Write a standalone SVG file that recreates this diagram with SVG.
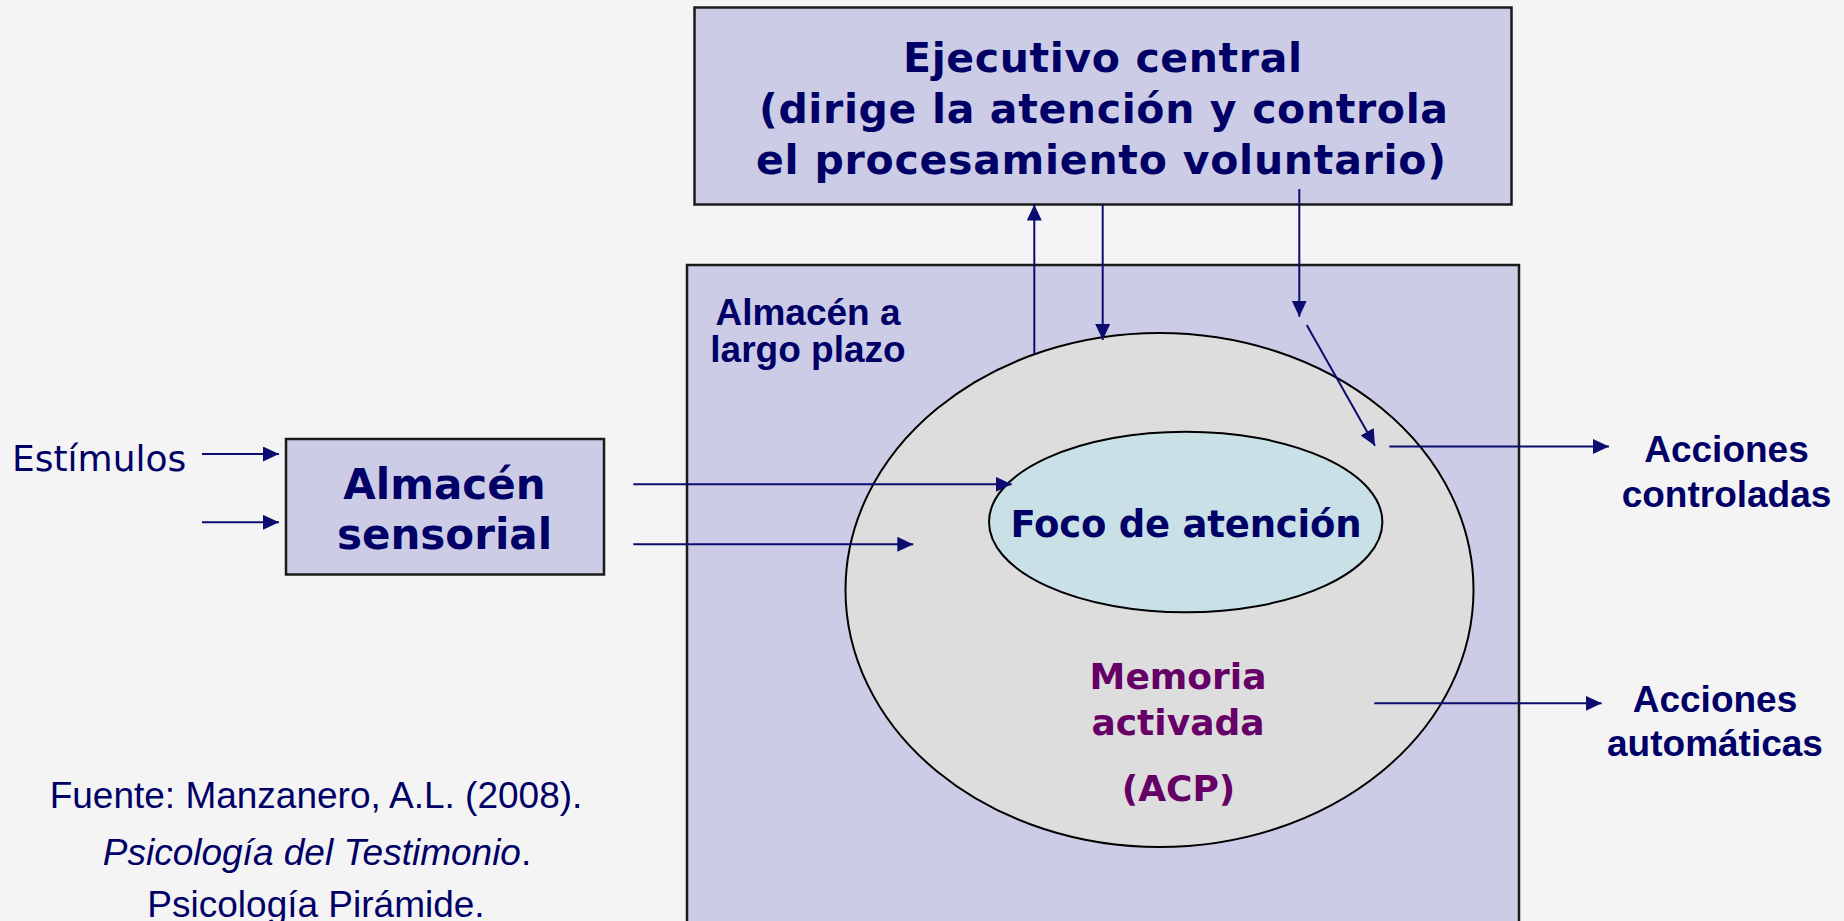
<svg xmlns="http://www.w3.org/2000/svg" width="1844" height="921" viewBox="0 0 1844 921">
  <style>
    .box { fill: #CCCCE6; stroke: #1a1a1a; stroke-width: 2.5; }
    .conn { stroke: #0c0c70; stroke-width: 2; fill: none; marker-end: url(#ah); }
    .vb { font-family: "DejaVu Sans", Verdana, sans-serif; font-weight: bold; fill: #000066; text-anchor: middle; }
    .ab { font-family: "Liberation Sans", Arial, sans-serif; font-weight: bold; fill: #000066; text-anchor: middle; }
    .ar { font-family: "Liberation Sans", Arial, sans-serif; fill: #000066; text-anchor: middle; font-size: 37px; }
    .mem { fill: #660066; }
  </style>
  <defs>
    <marker id="ah" markerUnits="userSpaceOnUse" markerWidth="16" markerHeight="15" refX="16" refY="7.5" orient="auto" viewBox="0 0 16 15">
      <path d="M0,0 L16,7.5 L0,15 z" fill="#0c0c70"/>
    </marker>
  </defs>
  <rect x="0" y="0" width="1844" height="921" fill="#F4F4F4"/>

  <g id="largo-plazo">
    <rect class="box" x="687" y="265" width="832" height="680"/>
    <text class="ab" font-size="37" x="808" y="325">Almacén a</text>
    <text class="ab" font-size="37" x="808" y="362">largo plazo</text>
  </g>

  <g id="memoria-activada">
    <ellipse cx="1159.5" cy="590" rx="314" ry="257" fill="#DDDDDD" stroke="#000" stroke-width="2"/>
    <text class="vb mem" font-size="36" x="1178" y="689">Memoria</text>
    <text class="vb mem" font-size="36" x="1178" y="735">activada</text>
    <text class="vb mem" font-size="36" x="1178.5" y="801">(ACP)</text>
  </g>

  <g id="foco">
    <ellipse cx="1185.7" cy="522" rx="196.7" ry="90.3" fill="#C8E0E6" stroke="#000" stroke-width="2"/>
    <text class="vb" font-size="37" x="1186" y="536.5" textLength="351">Foco de atención</text>
  </g>

  <g id="ejecutivo">
    <rect class="box" x="694.5" y="7.5" width="817" height="197"/>
    <text class="vb" font-size="41" x="1102.5" y="71.5" textLength="399">Ejecutivo central</text>
    <text class="vb" font-size="41" x="1103.5" y="123" textLength="689">(dirige la atención y controla</text>
    <text class="vb" font-size="41" x="1101" y="174" textLength="690">el procesamiento voluntario)</text>
  </g>

  <g id="sensorial">
    <rect class="box" x="286" y="439" width="318" height="135.5"/>
    <text class="vb" font-size="42" x="444.5" y="499.3">Almacén</text>
    <text class="vb" font-size="42" x="444.5" y="549.3">sensorial</text>
  </g>

  <g id="estimulos">
    <text font-family="'DejaVu Sans', Tahoma, sans-serif" font-size="36" fill="#000066" x="12" y="470.7">Estímulos</text>
  </g>

  <g id="acciones-controladas">
    <text class="ab" font-size="37" x="1726.5" y="461.7">Acciones</text>
    <text class="ab" font-size="37" x="1726.5" y="506.7">controladas</text>
  </g>

  <g id="acciones-automaticas">
    <text class="ab" font-size="37" x="1715" y="711.7">Acciones</text>
    <text class="ab" font-size="37" x="1715" y="755.7">automáticas</text>
  </g>

  <g id="fuente">
    <text class="ar" x="316" y="808.3">Fuente: Manzanero, A.L. (2008).</text>
    <text class="ar" x="317" y="865"><tspan font-style="italic">Psicología del Testimonio</tspan>.</text>
    <text class="ar" x="316" y="917">Psicología Pirámide.</text>
  </g>

  <g id="connectors">
    <line class="conn" x1="202" y1="454" x2="279" y2="454"/>
    <line class="conn" x1="202" y1="522.3" x2="279" y2="522.3"/>
    <line class="conn" x1="633.3" y1="484.3" x2="1011.7" y2="484.3"/>
    <line class="conn" x1="633.3" y1="544.3" x2="913.3" y2="544.3"/>
    <line class="conn" x1="1034.3" y1="355" x2="1034.3" y2="204.5"/>
    <line class="conn" x1="1102.7" y1="204.5" x2="1102.7" y2="340"/>
    <line class="conn" x1="1299.3" y1="189" x2="1299.3" y2="316.7"/>
    <line class="conn" x1="1306.7" y1="325" x2="1375" y2="445.7"/>
    <line class="conn" x1="1389.3" y1="446.5" x2="1609" y2="446.5"/>
    <line class="conn" x1="1374.3" y1="703.3" x2="1601.7" y2="703.3"/>
  </g>
</svg>
